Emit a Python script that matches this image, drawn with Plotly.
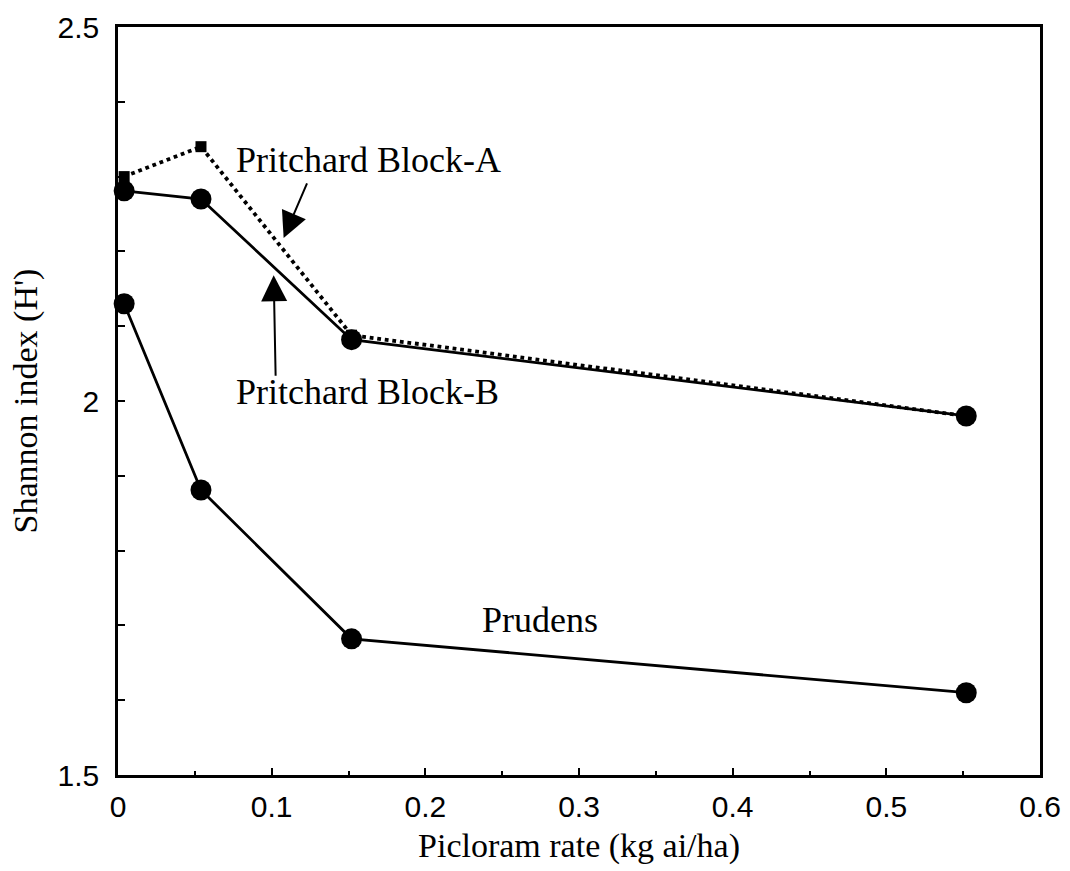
import plotly.graph_objects as go

rate = [0.004, 0.054, 0.152, 0.552]
block_a = [2.30, 2.34, 2.088, 1.98]
block_b = [2.281, 2.27, 2.082, 1.98]
prudens = [2.13, 1.881, 1.682, 1.61]

fig = go.Figure()
fig.add_trace(go.Scatter(x=rate, y=prudens, mode="lines+markers",
                         line=dict(color="black", width=2.8),
                         marker=dict(symbol="circle", size=21, color="black"),
                         cliponaxis=False, showlegend=False))
fig.add_trace(go.Scatter(x=rate, y=block_a, mode="lines+markers",
                         line=dict(color="black", width=3.8, dash="dot"),
                         marker=dict(symbol="square", size=11, color="black"),
                         cliponaxis=False, showlegend=False))
fig.add_trace(go.Scatter(x=rate, y=block_b, mode="lines+markers",
                         line=dict(color="black", width=2.8),
                         marker=dict(symbol="circle", size=21, color="black"),
                         cliponaxis=False, showlegend=False))

serif = "Liberation Serif, Times New Roman, serif"
sans = "Liberation Sans, Arial, sans-serif"

fig.add_annotation(x=0.0752, y=2.322, text="Pritchard Block-A", showarrow=False,
                   xanchor="left", font=dict(family=serif, size=36, color="black"))
fig.add_annotation(x=0.0752, y=2.012, text="Pritchard Block-B", showarrow=False,
                   xanchor="left", font=dict(family=serif, size=36, color="black"))
fig.add_annotation(x=0.2353, y=1.707, text="Prudens", showarrow=False,
                   xanchor="left", font=dict(family=serif, size=36, color="black"))
# arrows
fig.add_annotation(x=0.1078, y=2.218, ax=24, ay=-56, text="", showarrow=True,
                   arrowhead=2, arrowsize=2.6, arrowwidth=2, arrowcolor="black")
fig.add_annotation(x=0.1013, y=2.168, ax=2, ay=102, text="", showarrow=True,
                   arrowhead=2, arrowsize=2.6, arrowwidth=2, arrowcolor="black")

fig.update_xaxes(range=[0, 0.6], dtick=0.1, tick0=0, ticks="inside", ticklen=7,
                 tickwidth=1.5, tickcolor="black", automargin=False,
                 ticklabelstandoff=3,
                 minor=dict(dtick=0.05, ticks="inside", ticklen=4, tickcolor="black"),
                 showline=True, linecolor="black", linewidth=2.5, mirror=True,
                 showgrid=False, zeroline=False,
                 tickfont=dict(family=sans, size=30, color="black"),
                 title=dict(text="Picloram rate (kg ai/ha)", standoff=12,
                            font=dict(family=serif, size=34, color="black")))
fig.update_yaxes(range=[1.5, 2.5], dtick=0.5, tick0=1.5, ticks="inside", ticklen=7,
                 tickwidth=1.5, tickcolor="black", automargin=False,
                 ticklabelstandoff=10,
                 minor=dict(dtick=0.1, ticks="inside", ticklen=7, tickcolor="black"),
                 showline=True, linecolor="black", linewidth=2.5, mirror=True,
                 showgrid=False, zeroline=False,
                 tickfont=dict(family=sans, size=30, color="black"),
                 title=dict(text="Shannon index (H')", standoff=10,
                            font=dict(family=serif, size=34, color="black")))

fig.update_layout(width=1070, height=871, plot_bgcolor="white", paper_bgcolor="white",
                  margin=dict(l=118, r=30, t=27, b=96))

fig.write_html("out.html")
